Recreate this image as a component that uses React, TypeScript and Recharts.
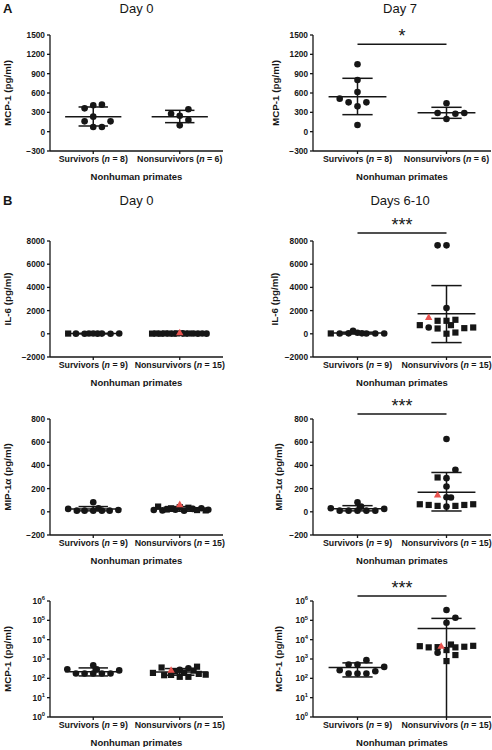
import React from 'react';
import { ScatterChart, Scatter, XAxis, YAxis, ReferenceLine } from 'recharts';

// a point is [swarm slot, value]; a stat is [mean, mean - SD, mean + SD]
type Pt = [number, number];
type Stat = [number, number, number];

const groupNames = ['Survivors', 'Nonsurvivors'];
const groupX = [1, 3];
const nMcpDay = [8, 6];
const nCohort = [9, 15];

const mcpTicks = [-300, 0, 300, 600, 900, 1200, 1500];
const il6Ticks = [-2000, 0, 2000, 4000, 6000, 8000];
const mipTicks = [-200, 0, 200, 400, 600, 800];
const logTicks = [1, 10, 100, 1000, 10000, 100000, 1000000];

// A: MCP-1, day 0
const a0SurvCirc: Pt[] = [[-1, 362], [0, 409], [1, 419], [0, 233], [-1, 160], [2, 160], [0, 73], [1, 73]];
const a0NonsCirc: Pt[] = [[-1, 279], [0, 246], [1, 347], [0, 98], [1, 181]];
const a0Stats: Stat[] = [[233, 88, 383], [233, 140, 331]];

// A: MCP-1, day 7
const a7SurvCirc: Pt[] = [[0, 1045], [0, 802], [0, 616], [-2, 512], [-1, 455], [1, 455], [0, 393], [0, 104]];
const a7NonsCirc: Pt[] = [[0, 440], [-1, 290], [1, 279], [2, 290], [0, 197]];
const a7Stats: Stat[] = [[543, 264, 828], [295, 207, 378]];
const a7Sig = 1355;

// B: IL-6, day 0
const b0SurvSq: Pt[] = [[-2.9, 20]];
const b0SurvCirc: Pt[] = [[-2, 15], [-1, 10], [-0.5, 25], [0, 30], [0.5, 12], [1, 18], [2, 10], [3, 22]];
const b0NonsSq: Pt[] = [[-3.2, 15], [-2.7, 25], [-2.2, 10], [-1.7, 30], [-1.2, 20], [-0.7, 12], [-0.3, 35], [0.6, 18], [1.1, 25]];
const b0NonsCirc: Pt[] = [[1.6, 20], [2.1, 12], [2.6, 28], [3.1, 15], [0.3, 40]];
const b0NonsTri: Pt[] = [[0, 90]];
const b0Stats: Stat[] = [[18, 5, 30], [25, 5, 45]];

// B: IL-6, days 6-10
const b6SurvSq: Pt[] = [[-3, 30]];
const b6SurvCirc: Pt[] = [[-2, 20], [-1, 40], [-0.5, 250], [0, 90], [0.5, 40], [1, 30], [2, 20], [3, 20]];
const b6NonsCirc: Pt[] = [[-1, 7624], [0, 7624], [0, 2220], [-2, 544]];
const b6NonsSq: Pt[] = [[-3, 746], [-1, 1122], [0, 1122], [1, 1208], [0.5, 746], [-1, 457], [2, 486], [3, 544], [0, 10], [1, 110]];
const b6NonsTri: Pt[] = [[-2, 1411]];
const b6Stats: Stat[] = [[60, -20, 140], [1729, -757, 4156]];
const b6Sig = 8700;

// C: MIP-1a, day 0
const c0SurvCirc: Pt[] = [[-2.9, 25], [-1.9, 10], [-1, 10], [0, 82], [0, 10], [0.6, 30], [1, 10], [1.9, 10], [2.9, 15]];
const c0NonsCirc: Pt[] = [[-3, 15], [-2, 12], [-0.5, 18], [0.5, 10], [1.5, 25], [2.5, 30], [3.3, 18]];
const c0NonsSq: Pt[] = [[-2.5, 45], [-1.5, 20], [-1, 30], [0, 40], [1, 35], [2, 15], [3, 12]];
const c0NonsTri: Pt[] = [[0, 62]];
const c0Stats: Stat[] = [[24, 8, 45], [25, 5, 45]];

// C: MIP-1a, days 6-10
const c6SurvCirc: Pt[] = [[-3, 30], [-2, 10], [-1, 10], [0, 82], [0, 10], [0.4, 45], [1, 10], [2, 10], [3, 25]];
const c6NonsCirc: Pt[] = [[0, 627], [1, 362], [0, 290], [0, 218], [0, 126], [0.5, 123], [0, 45]];
const c6NonsSq: Pt[] = [[-1, 296], [-3, 65], [-2, 59], [-1, 51], [1, 51], [2, 59], [3, 65]];
const c6NonsTri: Pt[] = [[-1, 146]];
const c6Stats: Stat[] = [[27, 8, 53], [169, 7, 339]];
const c6Sig = 843;

// D: MCP-1 (log), day 0
const d0SurvCirc: Pt[] = [[-3, 296], [-2, 178], [-1, 178], [0, 479], [0, 178], [0.4, 290], [1, 178], [2, 178], [3, 257]];
const d0NonsSq: Pt[] = [[-3.1, 191], [-2.1, 363], [-1.8, 145], [-1, 150], [-0.5, 230], [0, 120], [1, 120], [1.6, 250], [2, 400], [2.2, 170], [3, 155]];
const d0NonsCirc: Pt[] = [[0, 280], [0.5, 200], [1, 330]];
const d0NonsTri: Pt[] = [[-1, 263]];
const d0Stats: Stat[] = [[220, 133, 346], [215, 145, 320]];

// D: MCP-1 (log), days 6-10
const d6SurvCirc: Pt[] = [[-2, 263], [-1, 518], [-1, 178], [0, 518], [0, 178], [1, 870], [1, 178], [2, 233], [3, 390]];
const d6NonsCirc: Pt[] = [[0, 340000], [1, 136000], [0, 75000], [-1, 2100]];
const d6NonsSq: Pt[] = [[-3, 4600], [-2, 4000], [-1, 4100], [0.5, 5600], [1, 4000], [2, 4300], [3, 4800], [0, 2900], [1, 1600], [0, 780]];
const d6NonsTri: Pt[] = [[-0.6, 4600]];
const d6Stats: Stat[] = [[361, 118, 630], [38000, -50000, 126000]];
const d6Sig = 1800000;

const INK = '#161616';
const RED = '#e9534f';
const FONT = "'Liberation Sans', Arial, sans-serif";
const SLOT = 0.2;
const MEAN_W = 0.65;
const CAP_W = 0.34;

const Dot = (p: any) => <circle cx={p.cx} cy={p.cy} r={3.3} fill={INK} />;
const Sq = (p: any) => <rect x={p.cx - 3.1} y={p.cy - 3.1} width={6.2} height={6.2} fill={INK} />;
const Tri = (p: any) => (
  <polygon points={`${p.cx},${p.cy - 4} ${p.cx + 3.7},${p.cy + 2.6} ${p.cx - 3.7},${p.cy + 2.6}`} fill={RED} />
);

const toXY = (cx: number, pts: Pt[] = []) => pts.map(([s, v]) => ({ x: cx + s * SLOT, y: v }));
const fmtLin = (v: number) => (v < 0 ? '\u2212' + Math.abs(v) : String(v));

interface Grp { circ?: Pt[]; sq?: Pt[]; tri?: Pt[] }
interface PanelProps {
  left: number; top: number; right?: boolean;
  ylabel: string; ylabelX: number;
  ticks: number[]; log?: boolean; n: number[];
  surv: Grp; nons: Grp; stats: Stat[];
  sig?: number; stars?: string;
}

function Panel(props: PanelProps) {
  const { left, top, right, ylabel, ylabelX, ticks, log, n, surv, nons, stats, sig, stars } = props;
  const domain = [ticks[0], ticks[ticks.length - 1]];

  const seg = (key: string, x1: number, y1: number, x2: number, y2: number) => (
    <ReferenceLine key={key} segment={[{ x: x1, y: y1 }, { x: x2, y: y2 }]} stroke={INK} strokeWidth={1.5} ifOverflow="visible" />
  );

  const xTick = (p: any) => {
    const i = groupX.indexOf(p.payload.value);
    return (
      <text x={p.x} y={p.y} dy="0.71em" textAnchor="middle" fontSize={8.8} fontWeight="bold" fill={INK}>
        {groupNames[i]} (<tspan fontStyle="italic">n</tspan> = {n[i]})
      </text>
    );
  };

  const logTick = (p: any) => (
    <text x={p.x} y={p.y} dy="0.35em" textAnchor="end" fontSize={8.3} fontWeight="bold" fill={INK}>
      10<tspan dy={-3.5} fontSize={5.8}>{Math.round(Math.log10(p.payload.value))}</tspan>
    </text>
  );

  const yLabel = (p: any) => {
    const vb = p.viewBox || {};
    const cy = vb.y + vb.height / 2;
    return (
      <text x={ylabelX} y={cy} dy="0.35em" transform={`rotate(-90, ${ylabelX}, ${cy})`} textAnchor="middle" fontSize={9.8} fontWeight="bold" fill={INK}>
        {ylabel}
      </text>
    );
  };

  return (
    <div style={{ position: 'absolute', left, top }}>
      <ScatterChart width={246} height={171} margin={{ top: 25, right: right ? 1 : 23, bottom: 0, left: 0 }}>
        <XAxis
          type="number" dataKey="x" domain={[0, 4]} ticks={groupX} allowDataOverflow
          tick={xTick} tickSize={3} tickMargin={2} height={30}
          axisLine={{ stroke: INK, strokeWidth: 1.3 }} tickLine={{ stroke: INK, strokeWidth: 1.3 }}
          label={{ value: 'Nonhuman primates', position: 'insideBottom', offset: 1.5, fontSize: 9.5, fontWeight: 'bold', fill: INK }}
        />
        <YAxis
          type="number" dataKey="y" width={right ? 67 : 50} domain={domain} ticks={ticks} allowDataOverflow
          scale={log ? 'log' : 'linear'} interval={0}
          tick={log ? logTick : { fontSize: 8.3, fontWeight: 'bold', fill: INK }}
          tickFormatter={log ? undefined : fmtLin}
          tickSize={3} tickMargin={2}
          axisLine={{ stroke: INK, strokeWidth: 1.3 }} tickLine={{ stroke: INK, strokeWidth: 1.3 }}
          label={yLabel}
        />
        {[surv, nons].map((g, i) => [
          <Scatter key={`c${i}`} data={toXY(groupX[i], g.circ)} shape={Dot} isAnimationActive={false} />,
          <Scatter key={`s${i}`} data={toXY(groupX[i], g.sq)} shape={Sq} isAnimationActive={false} />,
          <Scatter key={`t${i}`} data={toXY(groupX[i], g.tri)} shape={Tri} isAnimationActive={false} />,
        ])}
        {stats.map(([m, lo0, hi], i) => {
          const c = groupX[i];
          const lo = Math.max(lo0, log ? domain[0] : -Infinity);
          return [
            seg(`m${i}`, c - MEAN_W, m, c + MEAN_W, m),
            seg(`h${i}`, c - CAP_W, hi, c + CAP_W, hi),
            lo0 > domain[0] ? seg(`l${i}`, c - CAP_W, lo, c + CAP_W, lo) : null,
            seg(`v${i}`, c, lo, c, hi),
          ];
        })}
        {sig !== undefined && (
          <ReferenceLine
            segment={[{ x: groupX[0], y: sig }, { x: groupX[1], y: sig }]}
            stroke={INK} strokeWidth={1.5} ifOverflow="visible"
            label={{ value: stars, position: 'top', offset: 2, fontSize: 18, fill: INK }}
          />
        )}
      </ScatterChart>
    </div>
  );
}

export default function App() {
  return (
    <div style={{ position: 'absolute', left: 0, top: 0, width: 492, height: 750, background: '#fff', fontFamily: FONT }}>
      <svg width={492} height={750} style={{ position: 'absolute', left: 0, top: 0 }}>
        <text x={3} y={12.7} fontSize={13} fontWeight="bold" fill={INK}>A</text>
        <text x={136.5} y={12.7} fontSize={13} textAnchor="middle" fill={INK}>Day 0</text>
        <text x={400} y={12.7} fontSize={13} textAnchor="middle" fill={INK}>Day 7</text>
        <text x={3} y={205} fontSize={13} fontWeight="bold" fill={INK}>B</text>
        <text x={136.5} y={205} fontSize={13} textAnchor="middle" fill={INK}>Day 0</text>
        <text x={400} y={205} fontSize={13} textAnchor="middle" fill={INK}>Days 6-10</text>
      </svg>

      <Panel left={0} top={10} ylabel="MCP-1 (pg/ml)" ylabelX={8} ticks={mcpTicks} n={nMcpDay}
        surv={{ circ: a0SurvCirc }} nons={{ circ: a0NonsCirc }} stats={a0Stats} />
      <Panel left={246} top={10} right ylabel="MCP-1 (pg/ml)" ylabelX={30} ticks={mcpTicks} n={nMcpDay}
        surv={{ circ: a7SurvCirc }} nons={{ circ: a7NonsCirc }} stats={a7Stats} sig={a7Sig} stars="*" />

      <Panel left={0} top={215.7} ylabel="IL-6 (pg/ml)" ylabelX={8} ticks={il6Ticks} n={nCohort}
        surv={{ circ: b0SurvCirc, sq: b0SurvSq }} nons={{ circ: b0NonsCirc, sq: b0NonsSq, tri: b0NonsTri }} stats={b0Stats} />
      <Panel left={246} top={215.7} right ylabel="IL-6 (pg/ml)" ylabelX={29} ticks={il6Ticks} n={nCohort}
        surv={{ circ: b6SurvCirc, sq: b6SurvSq }} nons={{ circ: b6NonsCirc, sq: b6NonsSq, tri: b6NonsTri }} stats={b6Stats} sig={b6Sig} stars="***" />

      <Panel left={0} top={394.3} ylabel="MIP-1α (pg/ml)" ylabelX={8} ticks={mipTicks} n={nCohort}
        surv={{ circ: c0SurvCirc }} nons={{ circ: c0NonsCirc, sq: c0NonsSq, tri: c0NonsTri }} stats={c0Stats} />
      <Panel left={246} top={394.3} right ylabel="MIP-1α (pg/ml)" ylabelX={33} ticks={mipTicks} n={nCohort}
        surv={{ circ: c6SurvCirc }} nons={{ circ: c6NonsCirc, sq: c6NonsSq, tri: c6NonsTri }} stats={c6Stats} sig={c6Sig} stars="***" />

      <Panel left={0} top={576} ylabel="MCP-1 (pg/ml)" ylabelX={8} ticks={logTicks} log n={nCohort}
        surv={{ circ: d0SurvCirc }} nons={{ circ: d0NonsCirc, sq: d0NonsSq, tri: d0NonsTri }} stats={d0Stats} />
      <Panel left={246} top={576} right ylabel="MCP-1 (pg/ml)" ylabelX={33} ticks={logTicks} log n={nCohort}
        surv={{ circ: d6SurvCirc }} nons={{ circ: d6NonsCirc, sq: d6NonsSq, tri: d6NonsTri }} stats={d6Stats} sig={d6Sig} stars="***" />
    </div>
  );
}
